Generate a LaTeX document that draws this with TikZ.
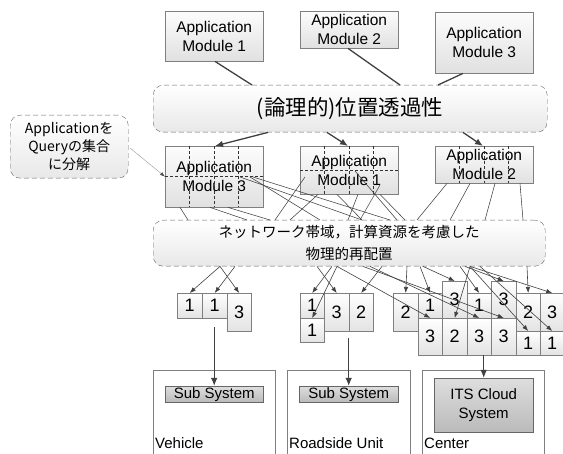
\documentclass[tikz,border=0pt]{standalone}
\usepackage{fontspec}
\setmainfont{Liberation Sans}
\newfontfamily\jp{Noto Sans CJK JP}
\usetikzlibrary{arrows.meta,calc}
\definecolor{bordergray}{HTML}{7F7F7F}
\definecolor{linegray}{HTML}{404040}
\begin{document}
\begin{tikzpicture}[x=1pt,y=-1pt,
  modbox/.style={draw=bordergray, top color=black!1, bottom color=black!12, inner sep=0pt, anchor=north west, align=center, font=\fontsize{15.5}{19}\selectfont},
  bubble/.style={draw=black!60, dash pattern=on 5pt off 3pt, rounded corners=10pt, top color=white, bottom color=black!9, inner sep=0pt, anchor=north west, align=center},
  cell/.style={draw=bordergray, top color=white, bottom color=black!11, inner sep=0pt, anchor=north west, font=\fontsize{18}{18}\selectfont},
  cont/.style={draw=bordergray, inner sep=0pt, anchor=north west},
  subbox/.style={draw=black!60, top color=black!13, bottom color=black!27, inner sep=0pt, anchor=north west, align=center, font=\fontsize{15}{19}\selectfont},
  lbl/.style={inner sep=0pt, anchor=base west, font=\fontsize{15}{18}\selectfont},
  conn/.style={draw=linegray, line width=1.3pt},
  bigarr/.style={draw=linegray, line width=1.3pt, -{Latex[length=8pt,width=6.5pt]}},
  farr/.style={draw=linegray, line width=0.6pt, -{Latex[length=6pt,width=4.5pt]}},
  mesh/.style={draw=linegray, line width=0.55pt},
  dashline/.style={draw=black!80, line width=1pt, dash pattern=on 3pt off 2pt},
  notearr/.style={draw=black!35, line width=0.5pt, -{Latex[length=5pt,width=3.5pt,color=black!70]}}
]
\useasboundingbox (0,0) rectangle (563,454);
\clip (0,0) rectangle (563,454);

% containers
\node[cont, minimum width=122pt, minimum height=100pt] (veh) at (153,370) {};
\node[cont, minimum width=123pt, minimum height=100pt] (rsu) at (287,370) {};
\node[cont, minimum width=122pt, minimum height=100pt] (cen) at (422,370) {};
\node[lbl] (vehl) at (155,449) {Vehicle};
\node[lbl] (rsul) at (289,449) {Roadside Unit};
\node[lbl] (cenl) at (424,449) {Center};

\node[subbox, minimum width=98pt, minimum height=16pt] (sub1) at (165,386) {Sub System};
\node[subbox, minimum width=99pt, minimum height=16pt] (sub2) at (299,386) {Sub System};
\node[subbox, minimum width=99pt, minimum height=54pt] (its) at (434,378) {ITS Cloud\\System};

% top modules
\node[modbox, minimum width=98pt, minimum height=50pt] (am1) at (165,11) {Application\\Module 1};
\node[modbox, minimum width=98pt, minimum height=37pt] (am2) at (300,11) {Application\\Module 2};
\node[modbox, minimum width=98pt, minimum height=61pt] (am3) at (435,12) {Application\\Module 3};

% bubble 1
\node[bubble, minimum width=394pt, minimum height=47pt, font=\jp\fontsize{21.5}{24}\selectfont] (b1) at (153,85) {(論理的)位置透過性};

\draw[conn] ([xshift=50pt]am1.south west) -- ([xshift=99pt]b1.north west);
\draw[conn] ([xshift=48pt]am2.south west) -- ([xshift=247pt]b1.north west);
\draw[conn] ([xshift=28pt]am3.south west) -- ([xshift=285pt]b1.north west);

% annotation
\node[bubble, minimum width=118pt, minimum height=63pt, font=\jp\fontsize{14}{18}\selectfont] (ann) at (10,115) {Applicationを\\Queryの集合\\に分解};

% split modules
\node[modbox, minimum width=98pt, minimum height=61pt] (m3) at (165,146) {Application\\Module 3};
\node[modbox, minimum width=98pt, minimum height=48pt] (m1) at (300,146) {Application\\Module 1};
\node[modbox, minimum width=98pt, minimum height=37pt] (m2) at (435,146) {Application\\Module 2};

\foreach \m in {m3,m1,m2}{
  \foreach \f in {0.25,0.5,0.75}{
    \draw[dashline] ($(\m.north west)!\f!(\m.north east)$) -- ($(\m.south west)!\f!(\m.south east)$);
  }
}
\draw[dashline] (m3.west) -- (m3.east);
\draw[dashline] (m1.west) -- (m1.east);

\draw[bigarr] ([xshift=115pt]b1.south west) -- ([xshift=50pt]m3.north west);
\draw[bigarr] ([xshift=174pt]b1.south west) -- ([xshift=48pt]m1.north west);
\draw[bigarr] ([xshift=310pt]b1.south west) -- ([xshift=48pt]m2.north west);

\draw[notearr, shorten <=2pt] (ann.east) -- (m3.west);

% bubble 2
\node[bubble, minimum width=392pt, minimum height=46pt, font=\jp\fontsize{14.5}{22}\selectfont] (b2) at (153,220) {ネットワーク帯域，計算資源を考慮した\\物理的再配置};

% mesh lines from split modules to bubble 2
\draw[mesh] ([xshift=15pt]m3.south west) -- ([xshift=35pt]b2.north west);
\draw[mesh] ([xshift=45pt]m3.south west) -- ([xshift=94pt]b2.north west);
\draw[mesh] ([xshift=63pt]m3.south west) -- ([xshift=117pt]b2.north west);
\draw[mesh] ([xshift=75pt,yshift=-31pt]m3.north west) -- ([xshift=209pt]b2.north west);
\draw[mesh] ([xshift=85pt,yshift=-31pt]m3.north west) -- ([xshift=167pt]b2.north west);
\draw[mesh] ([xshift=88pt,yshift=-31pt]m3.north west) -- ([xshift=237pt]b2.north west);

\draw[mesh] ([xshift=5pt,yshift=-31pt]m1.north west) -- ([xshift=122pt]b2.north west);
\draw[mesh] ([xshift=18pt]m1.south west) -- ([xshift=137pt]b2.north west);
\draw[mesh] ([xshift=37pt]m1.south west) -- ([xshift=209pt]b2.north west);
\draw[mesh] ([xshift=58pt]m1.south west) -- ([xshift=195pt]b2.north west);
\draw[mesh] ([xshift=80pt,yshift=-39pt]m1.north west) -- ([xshift=207pt]b2.north west);
\draw[mesh] ([xshift=55pt,yshift=-25pt]m1.north west) -- ([xshift=244pt]b2.north west);
\draw[mesh] ([xshift=80pt]m1.south west) -- ([xshift=252pt]b2.north west);

\draw[mesh] ([xshift=12pt]m2.south west) -- ([xshift=264pt]b2.north west);
\draw[mesh] ([xshift=35pt]m2.south west) -- ([xshift=297pt]b2.north west);
\draw[mesh] ([xshift=60pt]m2.south west) -- ([xshift=332pt]b2.north west);
\draw[mesh] ([xshift=85pt]m2.south west) -- ([xshift=370pt]b2.north west);

% fragment cells: vehicle
\node[cell, minimum width=25pt, minimum height=25pt] (v1) at (177,293) {1};
\node[cell, minimum width=25pt, minimum height=25pt] (v2) at (202,293) {1};
\node[cell, minimum width=24pt, minimum height=38pt] (v3) at (227,293) {3};
% roadside
\node[cell, minimum width=24pt, minimum height=25pt] (r1) at (300,293) {1};
\node[cell, minimum width=24pt, minimum height=24pt] (r1b) at (300,318) {1};
\node[cell, minimum width=25pt, minimum height=38pt] (r3) at (324,293) {3};
\node[cell, minimum width=24pt, minimum height=38pt] (r2) at (349,293) {2};
% center
\node[cell, minimum width=25pt, minimum height=38pt] (c2a) at (393,293) {2};
\node[cell, minimum width=24pt, minimum height=25pt] (c1a) at (418,293) {1};
\node[cell, minimum width=24pt, minimum height=37pt] (c3a) at (418,318) {3};
\node[cell, minimum width=25pt, minimum height=37pt] (c3b) at (442,281) {3};
\node[cell, minimum width=25pt, minimum height=37pt] (c2b) at (442,318) {2};
\node[cell, minimum width=24pt, minimum height=25pt] (c1b) at (467,293) {1};
\node[cell, minimum width=24pt, minimum height=37pt] (c3c) at (467,318) {3};
\node[cell, minimum width=25pt, minimum height=37pt] (c3d) at (491,281) {3};
\node[cell, minimum width=25pt, minimum height=37pt] (c3e) at (491,318) {3};
\node[cell, minimum width=24pt, minimum height=38pt] (c2c) at (516,293) {2};
\node[cell, minimum width=24pt, minimum height=24pt] (c1c) at (516,331) {1};
\node[cell, minimum width=24pt, minimum height=38pt] (c3f) at (540,293) {3};
\node[cell, minimum width=24pt, minimum height=24pt] (c1d) at (540,331) {1};

% fragment arrows
\draw[farr] ([xshift=67pt]b2.south west) -- (v1.north);
\draw[farr] ([xshift=82pt]b2.south west) -- (v2.north);
\draw[farr] ([xshift=67pt]b2.south west) -- (v3.north);

\draw[farr] ([xshift=179pt]b2.south west) -- (r1.north);
\draw[farr] ([xshift=184pt]b2.south west) -- (r1b.north);
\draw[farr] ([xshift=164pt]b2.south west) -- (r3.north);
\draw[farr] ([xshift=229pt]b2.south west) -- (r2.north);

\draw[farr] ([xshift=254pt]b2.south west) -- (c2a.north);
\draw[farr] ([xshift=267pt]b2.south west) -- (c1a.north);
\draw[farr] ([xshift=184pt]b2.south west) -- (c3a.north);
\draw[farr] ([xshift=270pt]b2.south west) -- (c3b.north);
\draw[farr] ([xshift=307pt]b2.south west) -- (c1b.north);
\draw[farr] ([xshift=317pt]b2.south west) -- (c2b.north);
\draw[farr] ([xshift=217pt]b2.south west) -- (c3c.north);
\draw[farr] ([xshift=210pt]b2.south west) -- (c3e.north);
\draw[farr] ([xshift=312pt]b2.south west) -- (c3d.north);
\draw[farr] ([xshift=317pt]b2.south west) -- (c1c.north);
\draw[farr] ([xshift=374pt]b2.south west) -- (c2c.north);
\draw[farr] ([xshift=317pt]b2.south west) -- (c3f.north);
\draw[farr] ([xshift=327pt]b2.south west) -- (c1d.north);

% arrows down to subsystems
\coordinate (vstart) at ($(sub1.north |- v2.south)+(0,9)$);
\coordinate (rstart) at ($(sub2.north |- r3.south)+(0,7)$);
\draw[bigarr] (vstart) -- (sub1.north);
\draw[bigarr] (rstart) -- (sub2.north);
\draw[bigarr] (its.north |- c3c.south) -- (its.north);
\end{tikzpicture}
\end{document}
